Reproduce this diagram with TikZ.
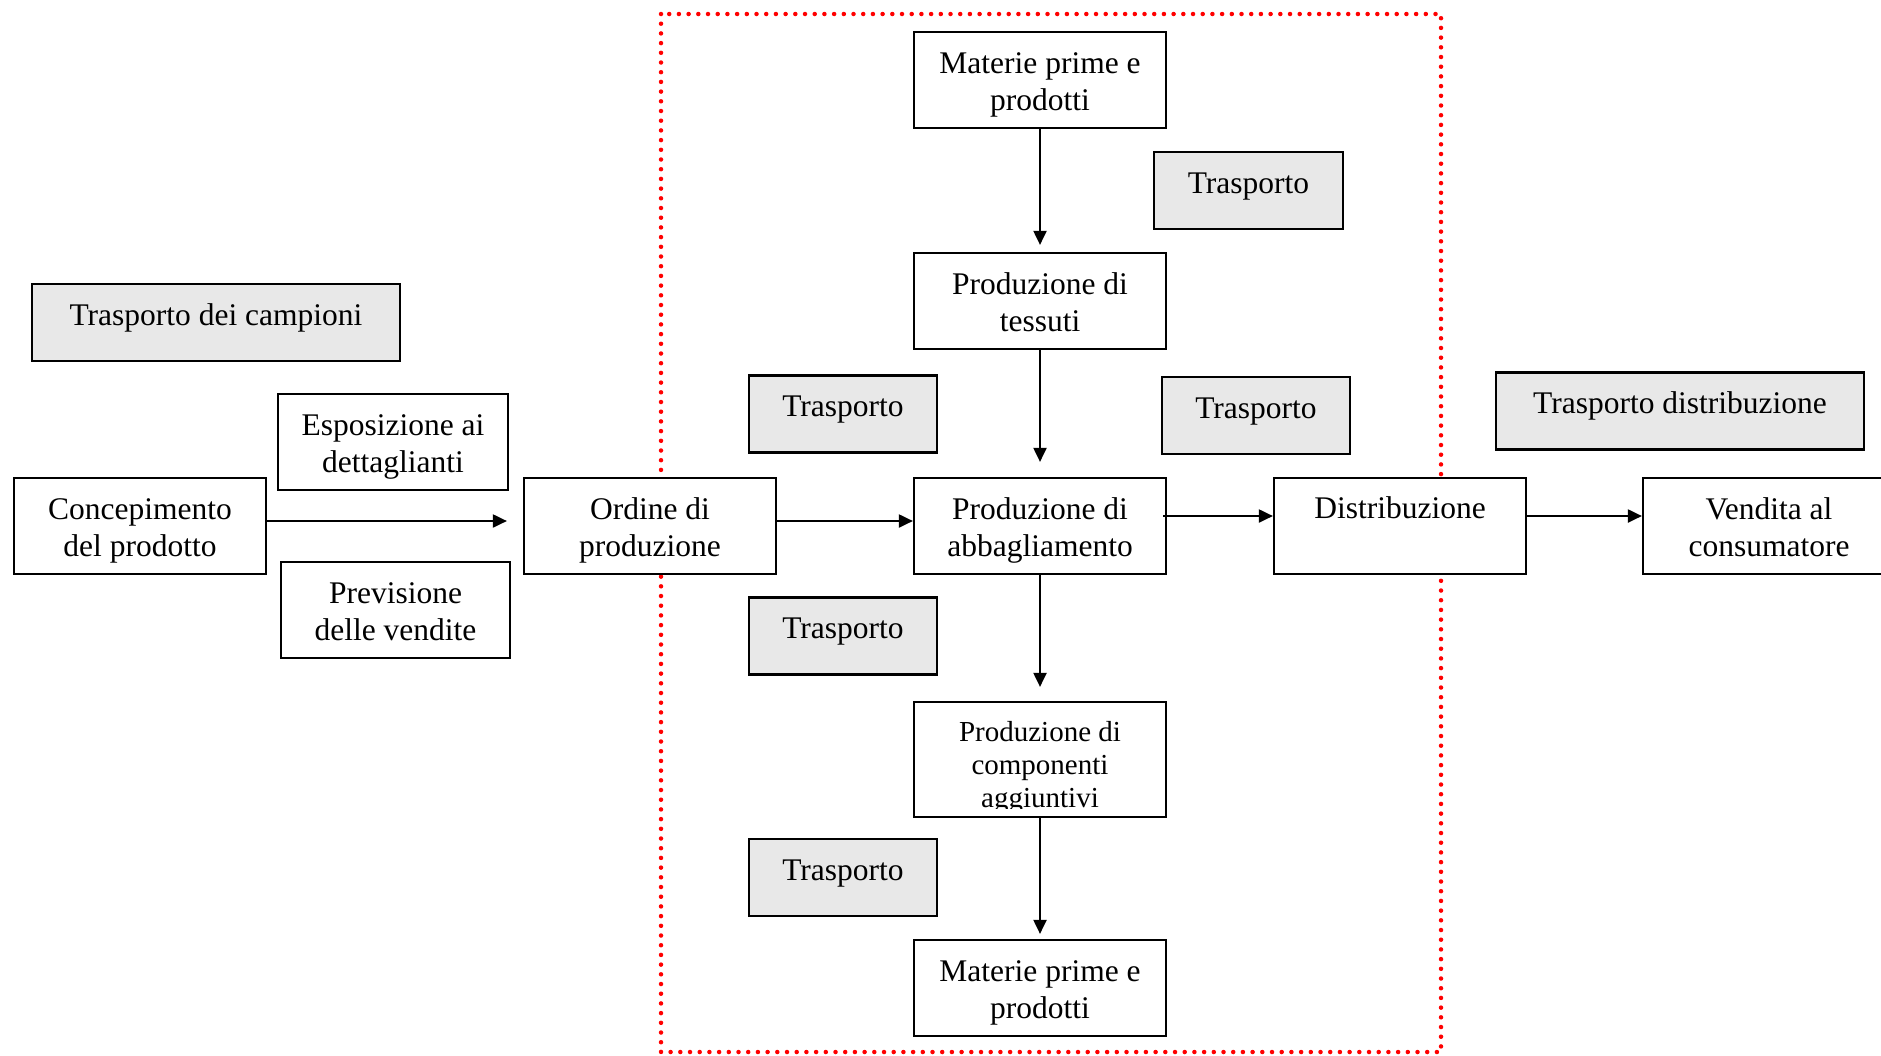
\documentclass[tikz,border=0pt]{standalone}
\usepackage{fontspec}
\setmainfont{Liberation Serif}
\usetikzlibrary{arrows.meta}
\definecolor{boxgray}{HTML}{E8E8E8}
\definecolor{redline}{HTML}{FF0000}
\tikzset{
  box/.style={draw=black, line width=2.2pt, fill=white, align=center, inner sep=0pt,
    minimum width=252pt, minimum height=96pt, text height=64pt, text depth=3.4pt,
    font=\fontsize{31.5}{37}\selectfont},
  graybox/.style={draw=black, line width=2.2pt, fill=boxgray, align=center, inner sep=0pt,
    minimum height=77pt, text height=24pt, text depth=19pt, font=\fontsize{31.5}{37}\selectfont},
  flow/.style={draw=black, line width=2pt, -{Triangle[length=14pt,width=13pt]}},
  region/.style={draw=redline, line width=4.5pt, line cap=round, dash pattern=on 0pt off 9.7pt}
}
\begin{document}
\begin{tikzpicture}[x=1pt,y=-1pt]
\useasboundingbox (0,0) rectangle (1881,1055);
\clip (0,0) rectangle (1881,1055);
\fill[white] (0,0) rectangle (1881,1055);

% dotted red region
\draw[region] (661,14) rectangle (1441,1052);

% main flow boxes
\node[box] (matTop) at (1040,80) {Materie prime e\\prodotti};
\node[box] (tess) at (1040,301) {Produzione di\\tessuti};
\node[box] (abb) at (1040,526) {Produzione di\\abbagliamento};
\node[box, minimum height=115pt, text height=0pt, text depth=0pt] (comp) at (1040,759.5) {};
\begin{scope}
  \clip (914,702) rectangle (1166,808);
  \node[align=center, inner sep=0pt, font=\fontsize{29}{33}\selectfont] (compTxt) at (1040,768) {Produzione di\\componenti\\aggiuntivi};
\end{scope}
\node[box] (matBot) at (1040,988) {Materie prime e\\prodotti};

\node[box] (conc) at (140,526) {Concepimento\\del prodotto};
\node[box] (ordine) at (650,526) {Ordine di\\produzione};
\node[box, text height=22pt, text depth=38pt] (distr) at (1400,526) {Distribuzione};
\node[box] (vend) at (1769,526) {Vendita al\\consumatore};
\node[box, minimum width=230pt] (espo) at (393,442) {Esposizione ai\\dettaglianti};
\node[box, minimum width=229pt] (prev) at (395.5,610) {Previsione\\delle vendite};

% gray transport boxes
\node[graybox, minimum width=368pt] (trCamp) at (216,322.5) {Trasporto dei campioni};
\node[graybox, minimum width=189pt] (trT1) at (1248.5,190.5) {Trasporto};
\node[graybox, minimum width=188pt] (trL1) at (843,414) {Trasporto};
\node[graybox, minimum width=188pt] (trR1) at (1256,415.5) {Trasporto};
\node[graybox, minimum width=368pt] (trDist) at (1680,411) {Trasporto distribuzione};
\node[graybox, minimum width=188pt] (trL2) at (843,636) {Trasporto};
\node[graybox, minimum width=188pt] (trL3) at (843,877.5) {Trasporto};

% connectors
\draw[flow, shorten >=16pt] ([yshift=5pt]conc.east) -- ([yshift=5pt]ordine.west);
\draw[flow] ([yshift=5pt]ordine.east) -- ([yshift=5pt]abb.west);
\draw[flow] ([yshift=10pt,xshift=-4pt]abb.east) -- ([yshift=10pt]distr.west);
\draw[flow] ([yshift=10pt]distr.east) -- ([yshift=10pt]vend.west);
\draw[flow, shorten >=7pt] (matTop.south) -- (tess.north);
\draw[flow, shorten >=15pt] (tess.south) -- (abb.north);
\draw[flow, shorten >=14pt] (abb.south) -- (comp.north);
\draw[flow, shorten >=5pt] (comp.south) -- (matBot.north);
\end{tikzpicture}
\end{document}
